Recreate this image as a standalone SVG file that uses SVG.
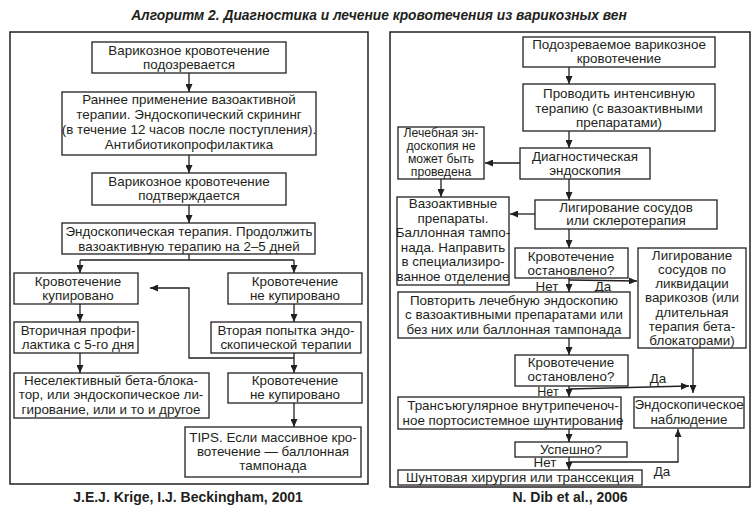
<svg xmlns="http://www.w3.org/2000/svg" width="756" height="508" viewBox="0 0 756 508">
<defs>
<marker id="ah" markerUnits="userSpaceOnUse" markerWidth="8" markerHeight="7" refX="8" refY="3.5" orient="auto">
<path d="M0,0 L8,3.5 L0,7 z" fill="#231f20"/>
</marker>
<style>
.frame{fill:none;stroke:#231f20;stroke-width:1.5}
.box{fill:#fff;stroke:#231f20;stroke-width:1.3}
.t{font-family:"Liberation Sans",Arial,sans-serif;font-size:13.4px;fill:#231f20;text-anchor:middle}
.s{font-size:12.2px}
.lbl{font-family:"Liberation Sans",Arial,sans-serif;font-size:13.4px;fill:#231f20;text-anchor:middle}
.ls{font-size:12.5px}
.cap{font-family:"Liberation Sans",Arial,sans-serif;font-size:14px;font-weight:bold;fill:#231f20;text-anchor:middle}
.title{font-family:"Liberation Sans",Arial,sans-serif;font-size:13.8px;font-weight:bold;font-style:italic;fill:#231f20;text-anchor:middle}
.c{fill:none;stroke:#231f20;stroke-width:1.3}
.a{fill:none;stroke:#231f20;stroke-width:1.3;marker-end:url(#ah)}
</style>
</defs>
<rect width="756" height="508" fill="#fff"/>
<text class="title" x="379" y="20">Алгоритм 2. Диагностика и лечение кровотечения из варикозных вен</text>

<rect class="frame" x="10" y="32" width="358" height="452"/>
<rect class="frame" x="390" y="32" width="360" height="455"/>

<g id="connectors">
<line class="a" x1="189" y1="73" x2="189" y2="92"/>
<line class="a" x1="189" y1="155" x2="189" y2="173"/>
<line class="a" x1="189" y1="205" x2="189" y2="223"/>
<polyline class="c" points="189,254 189,260"/>
<line class="c" x1="80" y1="260" x2="294" y2="260"/>
<line class="a" x1="80" y1="260" x2="80" y2="273"/>
<line class="a" x1="294" y1="260" x2="294" y2="273"/>
<line class="a" x1="80" y1="304" x2="80" y2="322"/>
<line class="a" x1="294" y1="304" x2="294" y2="322"/>
<line class="a" x1="80" y1="353" x2="80" y2="373"/>
<line class="a" x1="294" y1="353" x2="294" y2="373"/>
<polyline class="a" points="294,358 189,358 189,288 150,288"/>
<line class="a" x1="294" y1="403" x2="294" y2="427"/>

<line class="a" x1="569" y1="67" x2="569" y2="84"/>
<line class="a" x1="569" y1="131" x2="569" y2="148"/>
<line class="a" x1="520" y1="163" x2="485" y2="163"/>
<line class="a" x1="441" y1="179" x2="441" y2="197"/>
<line class="a" x1="569" y1="179" x2="569" y2="200"/>
<line class="a" x1="535" y1="214" x2="510" y2="214"/>
<line class="a" x1="569" y1="229" x2="569" y2="248"/>
<line class="a" x1="569" y1="278" x2="569" y2="292"/>
<line class="a" x1="569" y1="280" x2="637" y2="281"/>
<line class="a" x1="569" y1="338" x2="569" y2="355"/>
<line class="a" x1="569" y1="386" x2="569" y2="397"/>
<line class="a" x1="569" y1="389" x2="689" y2="386"/>
<line class="a" x1="693" y1="348" x2="693" y2="393"/>
<line class="a" x1="569" y1="429" x2="569" y2="442"/>
<line class="a" x1="569" y1="457" x2="569" y2="470"/>
<polyline class="a" points="569,462 678,462 678,429"/>
</g>

<g id="L1"><rect class="box" x="92" y="42" width="194" height="31"/>
<text class="t" x="189" y="55">Варикозное кровотечение</text><text class="t" x="189" y="69">подозревается</text></g>
<g id="L2"><rect class="box" x="62" y="92" width="254" height="63"/>
<text class="t" x="189" y="104">Раннее применение вазоактивной</text>
<text class="t" x="189" y="119">терапии. Эндоскопический скрининг</text>
<text class="t" x="189" y="134">(в течение 12 часов после поступления).</text>
<text class="t" x="189" y="149">Антибиотикопрофилактика</text></g>
<g id="L3"><rect class="box" x="92" y="173" width="194" height="32"/>
<text class="t" x="189" y="186">Варикозное кровотечение</text><text class="t" x="189" y="200">подтверждается</text></g>
<g id="L4"><rect class="box" x="62" y="223" width="253" height="31"/>
<text class="t" x="189" y="236">Эндоскопическая терапия. Продолжить</text>
<text class="t" x="189" y="251">вазоактивную терапию на 2–5 дней</text></g>
<g id="L5"><rect class="box" x="14" y="273" width="124" height="31"/>
<text class="t" x="78" y="286">Кровотечение</text><text class="t" x="78" y="300">купировано</text></g>
<g id="L6"><rect class="box" x="228" y="273" width="134" height="31"/>
<text class="t" x="295" y="286">Кровотечение</text><text class="t" x="295" y="300">не купировано</text></g>
<g id="L7"><rect class="box" x="14" y="322" width="124" height="31"/>
<text class="t" x="78" y="335">Вторичная профи-</text><text class="t" x="78" y="349">лактика с 5-го дня</text></g>
<g id="L8"><rect class="box" x="211" y="322" width="150" height="31"/>
<text class="t" x="286" y="335">Вторая попытка эндо-</text><text class="t" x="286" y="349">скопической терапии</text></g>
<g id="L9"><rect class="box" x="228" y="373" width="134" height="30"/>
<text class="t" x="295" y="385">Кровотечение</text><text class="t" x="295" y="399">не купировано</text></g>
<g id="L10"><rect class="box" x="14" y="373" width="195" height="45"/>
<text class="t" x="111" y="385">Неселективный бета-блока-</text>
<text class="t" x="111" y="399">тор, или эндоскопическое ли-</text>
<text class="t" x="111" y="414">гирование, или и то и другое</text></g>
<g id="L11"><rect class="box" x="185" y="427" width="176" height="50"/>
<text class="t" x="273" y="442">TIPS. Если массивное кро-</text>
<text class="t" x="273" y="456">вотечение — баллонная</text>
<text class="t" x="273" y="470">тампонада</text></g>
<text class="cap" x="188" y="502">J.E.J. Krige, I.J. Beckingham, 2001</text>

<g id="R1"><rect class="box" x="523" y="37" width="192" height="30"/>
<text class="t" x="619" y="49">Подозреваемое варикозное</text><text class="t" x="619" y="63">кровотечение</text></g>
<g id="R2"><rect class="box" x="523" y="84" width="192" height="47"/>
<text class="t" x="619" y="98">Проводить интенсивную</text>
<text class="t" x="619" y="112.5">терапию (с вазоактивными</text>
<text class="t" x="619" y="127">препаратами)</text></g>
<g id="R3"><rect class="box" x="520" y="148" width="130" height="31"/>
<text class="t" x="585" y="161">Диагностическая</text><text class="t" x="585" y="175">эндоскопия</text></g>
<g id="R4"><rect class="box" x="398" y="127" width="86" height="52"/>
<text class="t s" x="441" y="136.5">Лечебная эн-</text>
<text class="t s" x="441" y="149.5">доскопия не</text>
<text class="t s" x="441" y="162.5">может быть</text>
<text class="t s" x="441" y="175.5">проведена</text></g>
<g id="R5"><rect class="box" x="397" y="197" width="112" height="88"/>
<text class="t" x="453" y="208">Вазоактивные</text>
<text class="t" x="453" y="222.5">препараты.</text>
<text class="t" x="453" y="237">Баллонная тампо-</text>
<text class="t" x="453" y="251.5">нада. Направить</text>
<text class="t" x="453" y="266">в специализиро-</text>
<text class="t" x="453" y="280.5">ванное отделение</text></g>
<g id="R6"><rect class="box" x="535" y="200" width="182" height="29"/>
<text class="t" x="626" y="211.5">Лигирование сосудов</text><text class="t" x="626" y="225">или склеротерапия</text></g>
<g id="R7"><rect class="box" x="515" y="248" width="113" height="30"/>
<text class="t" x="571" y="261">Кровотечение</text><text class="t" x="571" y="274.5">остановлено?</text></g>
<g id="R8"><rect class="box" x="638" y="248" width="108" height="100"/>
<text class="t" x="692" y="259.5">Лигирование</text>
<text class="t" x="692" y="273.8">сосудов по</text>
<text class="t" x="692" y="288.1">ликвидации</text>
<text class="t" x="692" y="302.4">варикозов (или</text>
<text class="t" x="692" y="316.7">длительная</text>
<text class="t" x="692" y="331">терапия бета-</text>
<text class="t" x="692" y="345.3">блокаторами)</text></g>
<text class="lbl" x="547" y="291">Нет</text><text class="lbl" x="603" y="291">Да</text>
<g id="R9"><rect class="box" x="398" y="292" width="232" height="46"/>
<text class="t" x="514" y="304.5">Повторить лечебную эндоскопию</text>
<text class="t" x="514" y="319">с вазоактивными препаратами или</text>
<text class="t" x="514" y="333.5">без них или баллонная тампонада</text></g>
<g id="R10"><rect class="box" x="515" y="355" width="113" height="31"/>
<text class="t" x="571" y="367">Кровотечение</text><text class="t" x="571" y="380.5">остановлено?</text></g>
<text class="lbl" x="658" y="382.5">Да</text><text class="lbl ls" x="548" y="395.5">Нет</text>
<g id="R11"><rect class="box" x="634" y="397" width="110" height="31"/>
<text class="t" x="689" y="408.5">Эндоскопическое</text><text class="t" x="689" y="423.5">наблюдение</text></g>
<g id="R12"><rect class="box" x="398" y="397" width="223" height="32"/>
<text class="t" x="513" y="410">Трансъюгулярное внутрипеченоч-</text>
<text class="t" x="513" y="424.5">ное портосистемное шунтирование</text></g>
<g id="R13"><rect class="box" x="515" y="442" width="112" height="15"/>
<text class="t" x="571" y="453.5">Успешно?</text></g>
<text class="lbl" x="545" y="466.5">Нет</text><text class="lbl" x="662" y="475.5">Да</text>
<g id="R14"><rect class="box" x="398" y="470" width="244" height="15"/>
<text class="t" x="520" y="482">Шунтовая хирургия или транссекция</text></g>
<text class="cap" x="570" y="502">N. Dib et al., 2006</text>
</svg>
